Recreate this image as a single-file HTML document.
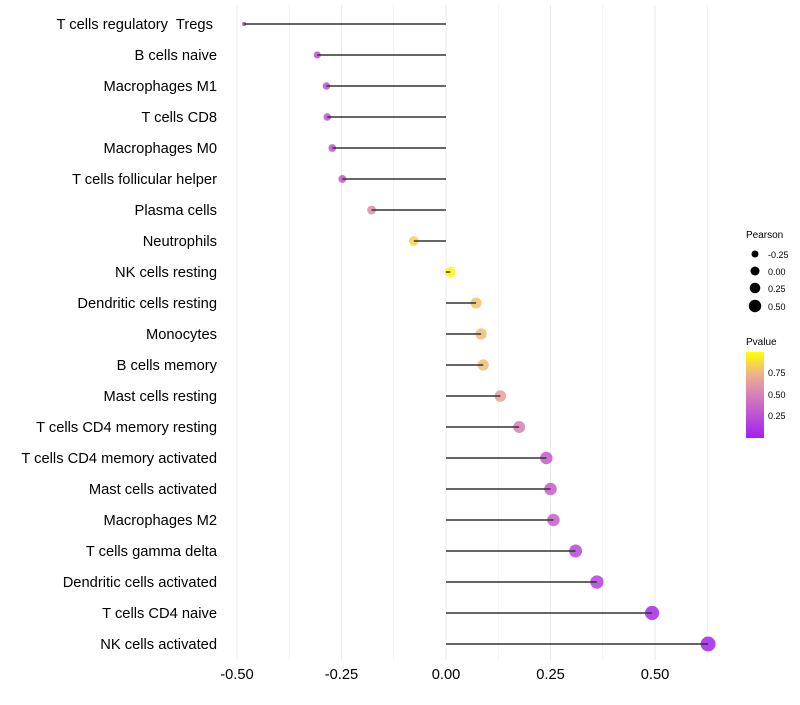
<!DOCTYPE html>
<html><head><meta charset="utf-8"><style>
body{margin:0;background:#fff;}
svg text{font-family:"Liberation Sans",sans-serif;white-space:pre;}
</style></head><body>
<svg id="chart" width="800" height="700">
<defs><linearGradient id="pg" x1="0" y1="1" x2="0" y2="0">
<stop offset="0" stop-color="#A020F0"/><stop offset="0.5" stop-color="#D580B8"/><stop offset="0.75" stop-color="#EEB488"/><stop offset="1" stop-color="#FFFF00"/></linearGradient></defs>
<g id="grid"></g><g id="dots"></g><g id="marks"></g><g id="labels"></g>
<g>
<text x="746" y="238" font-size="10">Pearson</text>
<circle cx="755" cy="254" r="3.5" fill="#000"/><text x="768" y="258" font-size="9">-0.25</text>
<circle cx="755" cy="271" r="4.5" fill="#000"/><text x="768" y="275" font-size="9">0.00</text>
<circle cx="755" cy="288" r="5.3" fill="#000"/><text x="768" y="292" font-size="9">0.25</text>
<circle cx="755" cy="306" r="6.2" fill="#000"/><text x="768" y="310" font-size="9">0.50</text>
</g>
<g>
<text x="746" y="345" font-size="10">Pvalue</text>
<rect x="746" y="352" width="18" height="86" fill="url(#pg)"/>
<text x="768" y="376" font-size="9">0.75</text>
<text x="768" y="398" font-size="9">0.50</text>
<text x="768" y="419" font-size="9">0.25</text>
</g>
</svg>
<script>
const categories=["T cells regulatory  Tregs ","B cells naive","Macrophages M1","T cells CD8","Macrophages M0","T cells follicular helper","Plasma cells","Neutrophils","NK cells resting","Dendritic cells resting","Monocytes","B cells memory","Mast cells resting","T cells CD4 memory resting","T cells CD4 memory activated","Mast cells activated","Macrophages M2","T cells gamma delta","Dendritic cells activated","T cells CD4 naive","NK cells activated"];
const pearson=[-0.483,-0.308,-0.286,-0.284,-0.272,-0.248,-0.178,-0.077,0.010,0.072,0.084,0.089,0.130,0.175,0.240,0.250,0.257,0.310,0.361,0.493,0.627];
const pvalue=[0.05,0.3,0.3,0.3,0.32,0.35,0.6,0.85,0.97,0.8,0.78,0.78,0.68,0.55,0.35,0.38,0.4,0.25,0.2,0.05,0.02];
const xTicks=[-0.5,-0.25,0,0.25,0.5];
const xTickLabels=["-0.50","-0.25","0.00","0.25","0.50"];
const NS="http://www.w3.org/2000/svg";
const x=v=>446+v*418;
const y=i=>24+i*31;
const rad=v=>Math.sqrt(Math.max(1,22.5+42.1*v))+0.5;
function col(p){
 const st=[[0,[160,32,240]],[0.5,[210,110,190]],[0.75,[238,180,136]],[1,[255,255,0]]];
 for(let k=1;k<st.length;k++){if(p<=st[k][0]){const a=st[k-1],b=st[k];const t=(p-a[0])/(b[0]-a[0]);return "rgb("+a[1].map((c,j)=>Math.round(c+(b[1][j]-c)*t)).join(",")+")";}}
 return "rgb(255,255,0)";
}
function mk(t,at,parent){const e=document.createElementNS(NS,t);for(const k in at)e.setAttribute(k,at[k]);document.getElementById(parent).appendChild(e);return e;}
for(let v=-0.5;v<=0.626;v+=0.125){
 const g=mk("line",{x1:x(v),x2:x(v),y1:5,y2:660,stroke:"#ebebeb","stroke-width":Math.abs(v*4-Math.round(v*4))<1e-6?1:0.6},"grid");
 
 
}
xTicks.forEach((v,i)=>{
 const t=mk("text",{x:x(v),y:679,"font-size":14.7,"text-anchor":"middle",fill:"#000"},"labels");
 t.textContent=xTickLabels[i];
 
 
});
categories.forEach((c,i)=>{
 const t=mk("text",{x:217,y:y(i)+5,"font-size":14.7,"text-anchor":"end",fill:"#000"},"labels");
 t.textContent=c;
 
 
 const d=mk("circle",{cx:x(pearson[i]),cy:y(i),r:rad(pearson[i]),fill:col(pvalue[i]),"fill-opacity":0.85},"dots");
 
 
 const l=mk("line",{x1:x(0),x2:x(pearson[i]),y1:y(i),y2:y(i),stroke:"#333","stroke-width":1.4},"marks");
 
 
});
</script>
</body></html>
